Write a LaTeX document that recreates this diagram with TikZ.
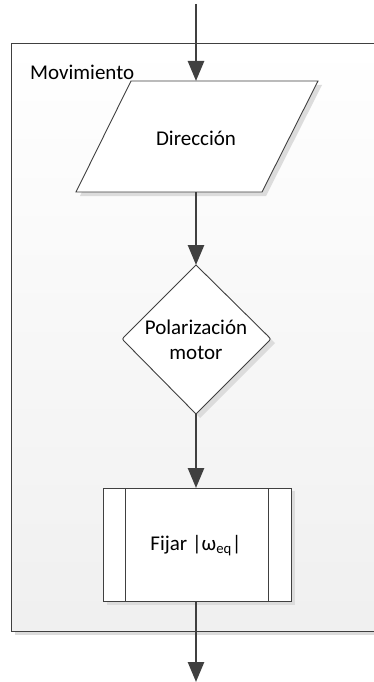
\documentclass[tikz,border=0pt]{standalone}
\usepackage{fontspec}
\setmainfont{Carlito}
\usetikzlibrary{arrows.meta,shadings}
\definecolor{lc}{HTML}{404040}
\definecolor{sh}{HTML}{DCDCDC}
\tikzset{
  flow/.style={draw=lc, line width=2.6pt, -{Triangle[length=20pt,width=16pt]}},
  fbox/.style={draw=lc, line width=0.9pt, fill=white},
  lbl/.style={font=\fontsize{21}{25}\selectfont, text=black, align=center, inner sep=0pt}
}
\begin{document}
\begin{tikzpicture}[x=1pt,y=-1pt]
\useasboundingbox (0,0) rectangle (374,682);
\begin{scope}
\clip (0,0) rectangle (374,682);
% container shadow and body
\fill[sh] (15,47) rectangle (384,635);
\shade[top color=white, bottom color=white!94!black, draw=lc, line width=0.9pt] (11,43) rectangle (380,631);
\end{scope}
\node[lbl, anchor=west] (title) at (30,72) {Movimiento};
% shadows
\fill[sh] (135,85) -- (322,85) -- (266,196) -- (80,196) -- cycle;
\fill[sh] (200,269) -- (275,343) -- (200,418) -- (126,343) -- cycle;
\fill[sh] (107,491) rectangle (295,605);
% parallelogram
\draw[fbox] (131,81) -- (318,81) -- (262,192) -- (76,192) -- cycle;
\coordinate (p1) at (196,81);
\coordinate (p2) at (196,192);
\node[lbl] (dir) at (196,138) {Dirección};
% diamond (rounded left and right corners only)
\draw[fbox] (196,265) -- (267.4,335.5) .. controls (271,339) .. (267.5,342.5)
  -- (196,414) -- (125.5,342.5) .. controls (122,339) .. (125.5,335.5) -- cycle;
\coordinate (d1) at (196,265);
\coordinate (d2) at (196,414);
\node[lbl] (pol) at (196,340) {Polarización\\motor};
% predefined process
\draw[fbox] (103,488) rectangle (291,601);
\draw[draw=lc, line width=0.9pt] (125,488) -- (125,601) (268,488) -- (268,601);
\coordinate (r1) at (196,488);
\coordinate (r2) at (196,601);
\node[lbl] (fix) at (196,546) {Fijar |ω\textsubscript{eq}|};
% connectors
\coordinate (s) at (196,4);
\coordinate (e) at (196,682);
\draw[flow] (s) -- (p1);
\draw[flow] (p2) -- (d1);
\draw[flow] (d2) -- (r1);
\draw[flow] (r2) -- (e);
\end{tikzpicture}
\end{document}
